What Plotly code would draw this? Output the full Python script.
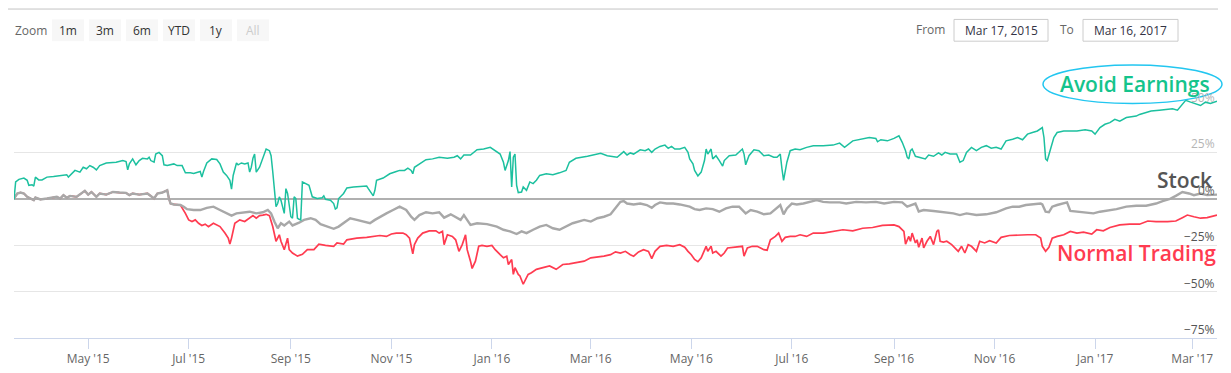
import pandas as pd
import plotly.graph_objects as go

# ---------------- data (days since start date, percent change) ----------------
START_DATE = "2015-03-17"
END_DATE = "2017-03-16"

avoid_earnings = [
    (0, -0.5), (1, 8.9), (3, 10.3), (6, 11.0), (8, 9.8), (9, 7.1), (11, 7.4), (12, 6.6), (13, 11.5),
    (15, 10.0), (17, 10.0), (19, 10.8), (20, 11.5), (24, 11.8), (28, 12.4), (32, 12.8), (33, 11.5),
    (35, 13.3), (37, 15.1), (40, 14.2), (42, 16.8), (44, 16.0), (46, 17.7), (48, 16.8), (50, 15.4),
    (52, 17.7), (56, 19.1), (62, 19.5), (66, 20.4), (68, 19.9), (69, 15.4), (70, 18.6), (72, 21.3),
    (74, 18.1), (76, 20.4), (78, 21.6), (81, 21.3), (82, 22.2), (83, 20.4), (85, 19.5), (86, 23.9),
    (88, 24.8), (90, 23.0), (91, 18.1), (93, 17.7), (97, 18.6), (99, 17.7), (102, 17.7), (104, 13.8),
    (107, 13.8), (109, 13.5), (113, 14.5), (114, 11.5), (115, 14.5), (117, 19.1), (120, 21.3),
    (123, 21.0), (125, 18.6), (127, 14.2), (129, 12.4), (131, 9.8), (132, 5.0), (133, 12.4),
    (135, 19.1), (136, 18.1), (138, 19.1), (140, 18.6), (142, 19.1), (143, 14.2), (144, 16.8),
    (145, 21.6), (146, 23.9), (147, 14.2), (149, 16.8), (151, 21.3), (153, 26.6), (155, 25.7),
    (156, 23.0), (157, 14.5), (158, 5.3), (159, -4.4), (160, -2.7), (161, 0.9), (162, -1.0),
    (163, -5.3), (164, -8.0), (165, 5.3), (166, 2.7), (167, -3.5), (168, -9.8), (169, -10.6),
    (170, 0.9), (171, 0.0), (172, -10.6), (173, -11.2), (174, -11.5), (175, 8.9), (177, 8.0),
    (179, 7.1), (181, 0.9), (184, 0.0), (187, 0.4), (188, 1.4), (189, -0.4), (192, -0.9), (194, -2.7),
    (195, -5.7), (196, -5.0), (197, 0.0), (200, 2.7), (202, 5.7), (206, 6.2), (210, 6.5), (214, 6.7),
    (215, 5.3), (217, 2.7), (218, 1.4), (219, 4.4), (220, 9.8), (224, 11.0), (228, 13.3), (232, 14.5),
    (234, 15.1), (237, 15.1), (239, 16.3), (241, 15.1), (242, 13.3), (243, 16.8), (246, 18.6),
    (250, 20.9), (254, 21.3), (258, 22.2), (263, 21.6), (267, 22.2), (269, 23.0), (271, 21.3),
    (273, 23.4), (277, 23.4), (281, 26.2), (285, 26.6), (289, 27.5), (292, 25.7), (295, 23.9),
    (297, 19.5), (298, 15.1), (300, 20.4), (301, 25.2), (302, 6.2), (303, 22.2), (304, 23.9),
    (305, 7.1), (306, 3.2), (308, 3.5), (309, 6.2), (311, 4.4), (313, 8.9), (315, 8.0), (317, 9.8),
    (319, 12.4), (323, 13.3), (327, 12.8), (331, 13.8), (335, 15.1), (337, 19.5), (341, 21.6),
    (348, 22.7), (352, 23.4), (356, 24.3), (360, 23.0), (366, 22.2), (370, 25.2), (372, 23.4),
    (374, 24.5), (376, 23.9), (380, 26.2), (383, 25.7), (385, 26.6), (387, 24.8), (389, 26.6),
    (392, 28.0), (395, 28.7), (397, 27.0), (399, 28.0), (401, 26.6), (404, 26.6), (407, 27.5),
    (409, 24.8), (410, 21.3), (412, 18.6), (413, 15.1), (415, 12.1), (417, 14.2), (419, 20.4),
    (420, 26.6), (421, 23.9), (423, 26.6), (424, 21.3), (426, 23.0), (428, 20.4), (430, 17.4),
    (431, 20.4), (434, 23.0), (438, 23.4), (442, 26.6), (443, 23.9), (444, 18.1), (446, 23.0),
    (449, 26.2), (452, 25.7), (455, 23.0), (458, 23.4), (461, 22.2), (463, 22.2), (465, 23.9),
    (466, 16.0), (467, 9.8), (469, 19.5), (471, 25.7), (474, 26.6), (477, 26.2), (481, 27.5),
    (485, 28.4), (491, 28.4), (497, 28.7), (501, 29.8), (504, 27.5), (509, 31.0), (515, 32.3),
    (519, 32.8), (523, 32.3), (524, 30.5), (526, 31.6), (530, 31.0), (534, 32.3), (537, 33.7),
    (539, 30.2), (541, 25.7), (542, 22.2), (543, 21.3), (544, 25.7), (545, 26.6), (547, 22.7),
    (550, 22.2), (553, 21.3), (555, 23.4), (558, 22.7), (561, 24.5), (563, 23.4), (565, 24.8),
    (568, 23.9), (572, 23.9), (574, 19.5), (576, 20.4), (578, 24.8), (581, 27.5), (584, 25.7),
    (587, 27.5), (590, 28.4), (593, 27.0), (596, 27.5), (599, 26.6), (602, 31.0), (606, 31.9),
    (609, 32.8), (612, 31.6), (615, 34.6), (618, 35.5), (621, 36.3), (624, 38.1), (625, 32.8),
    (626, 21.3), (627, 20.4), (629, 26.6), (631, 32.8), (633, 35.5), (637, 36.3), (641, 36.3),
    (645, 36.3), (650, 36.9), (654, 36.3), (656, 34.6), (659, 38.1), (662, 39.9), (665, 40.8),
    (668, 42.6), (671, 41.6), (675, 43.5), (679, 44.0), (681, 44.3), (683, 45.2), (687, 46.1),
    (690, 47.0), (695, 47.5), (700, 47.9), (703, 48.2), (706, 47.5), (709, 50.5), (711, 52.8),
    (714, 51.8), (717, 51.1), (720, 50.0), (723, 51.8), (726, 51.1), (730, 52.3),
]

stock = [
    (0, 0.0), (2, 2.7), (4, 3.2), (6, 2.7), (8, 0.9), (10, 0.0), (12, -0.9), (13, 0.5), (16, -0.5),
    (20, 0.0), (24, 0.4), (26, 0.9), (28, 0.0), (30, 1.8), (32, 0.4), (34, 1.4), (38, 0.9), (40, 2.1),
    (43, 4.1), (45, 2.1), (47, 3.5), (50, 0.9), (52, 2.7), (56, 2.1), (60, 3.5), (64, 3.2), (68, 3.0),
    (70, 1.8), (72, 2.7), (76, 2.1), (81, 2.7), (85, 0.0), (87, 2.7), (90, 3.2), (92, 3.9), (93, 4.4),
    (94, 0.0), (95, -2.7), (97, -3.2), (101, -3.5), (103, -4.4), (105, -5.7), (109, -6.2),
    (113, -6.2), (117, -5.0), (121, -4.4), (125, -6.2), (129, -8.0), (132, -9.2), (135, -8.0),
    (139, -7.4), (143, -7.1), (147, -8.0), (151, -7.4), (154, -6.2), (156, -8.0), (158, -12.4),
    (160, -16.0), (162, -13.3), (164, -14.5), (167, -12.4), (169, -14.5), (173, -13.0), (176, -11.5),
    (180, -10.6), (183, -11.5), (186, -13.8), (190, -15.1), (194, -16.3), (197, -15.1), (200, -13.3),
    (204, -10.6), (208, -11.5), (212, -12.4), (216, -13.3), (219, -11.5), (222, -9.8), (226, -8.0),
    (230, -6.2), (234, -4.4), (238, -6.2), (241, -9.8), (243, -11.5), (246, -8.9), (250, -7.4),
    (254, -8.0), (258, -7.4), (261, -10.3), (265, -8.5), (269, -10.6), (271, -11.5), (273, -8.9),
    (275, -11.5), (277, -14.2), (281, -13.3), (287, -13.8), (293, -15.1), (297, -16.8), (301, -17.7),
    (305, -19.1), (308, -17.7), (311, -18.6), (315, -16.8), (319, -15.1), (323, -14.2), (327, -16.0),
    (331, -16.8), (335, -15.1), (339, -13.3), (346, -11.5), (350, -12.4), (354, -10.6), (358, -9.8),
    (362, -8.5), (365, -5.3), (368, -1.8), (370, -1.4), (372, -2.7), (376, -3.2), (380, -2.7),
    (384, -3.5), (387, -5.0), (389, -3.5), (392, -2.1), (396, -2.7), (400, -2.7), (404, -3.2),
    (407, -3.9), (410, -4.4), (413, -5.7), (416, -6.2), (420, -5.3), (424, -5.7), (428, -7.1),
    (432, -5.3), (436, -4.4), (440, -4.4), (444, -8.0), (447, -6.2), (451, -7.1), (455, -8.5),
    (459, -8.0), (463, -5.3), (465, -3.5), (467, -8.5), (469, -5.3), (472, -2.7), (475, -3.2),
    (479, -2.7), (483, -1.8), (487, -0.9), (491, -1.8), (495, -2.1), (501, -2.1), (505, -2.7),
    (511, -1.8), (517, -2.1), (523, -1.8), (528, -2.7), (534, -1.8), (539, -2.1), (542, -4.4),
    (545, -3.5), (547, -2.7), (549, -7.0), (552, -6.2), (558, -6.7), (564, -7.4), (570, -8.0),
    (574, -8.9), (578, -8.0), (584, -8.9), (590, -8.5), (596, -7.4), (599, -6.2), (602, -5.3),
    (606, -4.4), (610, -4.4), (614, -3.5), (619, -3.2), (623, -2.7), (624, -3.2), (626, -7.1),
    (628, -7.4), (630, -4.4), (633, -3.5), (637, -2.7), (639, -2.1), (641, -6.7), (645, -7.1),
    (651, -7.4), (655, -8.0), (659, -7.1), (663, -6.7), (669, -5.7), (675, -4.4), (681, -3.9),
    (687, -3.9), (693, -2.7), (697, -1.4), (701, -0.4), (705, 1.4), (709, 3.5), (713, 2.7),
    (716, 1.8), (720, 2.7), (724, 1.8), (730, 2.1),
]

normal_trading = [
    (0, 0.0), (2, 2.7), (4, 3.2), (6, 2.7), (8, 0.9), (10, 0.0), (12, -0.9), (13, 0.5), (16, -0.5),
    (20, 0.0), (24, 0.4), (26, 0.9), (28, 0.0), (30, 1.8), (32, 0.4), (34, 1.4), (38, 0.9), (40, 2.1),
    (43, 4.1), (45, 2.1), (47, 3.5), (50, 0.9), (52, 2.7), (56, 2.1), (60, 3.5), (64, 3.2), (68, 3.0),
    (70, 1.8), (72, 2.7), (76, 2.1), (81, 2.7), (85, 0.0), (87, 2.7), (90, 3.2), (92, 3.9), (93, 4.4),
    (94, 0.0), (95, -2.7), (97, -3.2), (101, -3.5), (104, -8.0), (106, -11.5), (108, -12.4),
    (110, -11.5), (112, -13.3), (114, -14.5), (116, -13.8), (118, -15.1), (121, -13.3), (125, -15.1),
    (128, -18.6), (130, -21.3), (131, -24.5), (132, -21.3), (134, -13.3), (137, -11.5), (140, -12.4),
    (143, -10.6), (145, -9.2), (147, -10.6), (149, -9.2), (151, -8.9), (153, -8.5), (155, -9.2),
    (157, -15.1), (159, -23.0), (161, -19.5), (162, -23.0), (164, -27.5), (166, -21.3), (167, -27.5),
    (169, -29.3), (172, -31.0), (175, -30.0), (178, -27.5), (182, -27.5), (185, -24.5), (189, -25.2),
    (194, -25.7), (196, -23.9), (200, -24.5), (202, -22.2), (208, -21.3), (214, -20.9), (218, -20.4),
    (222, -19.9), (226, -20.4), (229, -19.1), (232, -18.6), (236, -18.6), (238, -19.5), (240, -21.3),
    (242, -29.8), (243, -24.8), (245, -21.3), (248, -18.6), (252, -17.4), (256, -17.4), (258, -18.6),
    (260, -17.7), (261, -24.8), (263, -19.5), (266, -20.4), (268, -22.2), (270, -28.4), (272, -24.8),
    (274, -19.5), (275, -27.5), (277, -33.7), (278, -37.6), (280, -33.7), (282, -25.7), (284, -25.2),
    (287, -25.7), (290, -25.2), (292, -27.5), (295, -30.2), (297, -31.9), (299, -31.0), (300, -35.5),
    (302, -32.8), (303, -40.8), (304, -37.2), (306, -40.8), (307, -41.6), (309, -46.1), (311, -42.5),
    (312, -40.8), (314, -39.9), (317, -38.1), (321, -37.2), (325, -36.3), (329, -38.1), (333, -35.5),
    (337, -35.1), (341, -34.6), (346, -33.7), (350, -31.9), (354, -31.6), (358, -31.0), (362, -30.2),
    (365, -28.7), (368, -29.3), (371, -28.4), (374, -30.2), (376, -31.0), (379, -28.7), (382, -27.5),
    (385, -28.4), (387, -32.3), (389, -28.4), (392, -25.7), (396, -25.2), (400, -25.7), (404, -24.8),
    (407, -26.2), (409, -28.4), (411, -30.2), (413, -32.8), (415, -34.0), (417, -31.9), (420, -25.7),
    (421, -28.4), (423, -25.7), (424, -29.3), (426, -28.4), (429, -31.0), (431, -29.3), (433, -26.6),
    (436, -26.2), (442, -25.7), (443, -31.0), (445, -26.6), (448, -25.7), (451, -25.7), (455, -27.5),
    (457, -27.8), (459, -22.2), (462, -20.4), (464, -18.6), (466, -23.0), (468, -20.9), (471, -20.4),
    (474, -20.4), (477, -19.5), (481, -20.4), (485, -18.6), (491, -18.6), (497, -17.7), (503, -16.8),
    (509, -17.4), (515, -16.0), (521, -15.6), (527, -14.5), (534, -14.2), (537, -15.1), (540, -17.7),
    (541, -24.5), (543, -20.4), (544, -23.0), (545, -18.6), (547, -23.9), (548, -22.2), (549, -26.2),
    (551, -21.3), (552, -26.6), (554, -23.0), (556, -20.4), (558, -24.8), (560, -17.7), (561, -16.8),
    (562, -23.0), (564, -23.4), (566, -23.0), (569, -24.8), (573, -28.4), (575, -25.7), (577, -29.3),
    (579, -24.8), (581, -25.7), (584, -28.4), (586, -23.0), (589, -23.9), (592, -22.7), (596, -23.9),
    (599, -20.9), (604, -19.9), (610, -19.5), (615, -19.5), (620, -19.5), (623, -21.3), (624, -25.7),
    (626, -28.4), (628, -26.2), (630, -21.3), (633, -20.4), (637, -19.5), (641, -17.7), (645, -18.6),
    (649, -18.1), (654, -19.1), (657, -16.8), (661, -17.4), (665, -15.6), (671, -14.2), (677, -13.8),
    (683, -13.8), (688, -12.1), (693, -12.4), (700, -12.4), (705, -12.1), (709, -10.3), (712, -8.9),
    (716, -9.8), (720, -10.6), (724, -10.3), (730, -8.9),
]

x_tick_dates = ["2015-05-01", "2015-07-01", "2015-09-01", "2015-11-01", "2016-01-01", "2016-03-01",
                "2016-05-01", "2016-07-01", "2016-09-01", "2016-11-01", "2017-01-01", "2017-03-01"]
x_tick_labels = ["May '15", "Jul '15", "Sep '15", "Nov '15", "Jan '16", "Mar '16",
                 "May '16", "Jul '16", "Sep '16", "Nov '16", "Jan '17", "Mar '17"]
y_label_values = [50, 25, 0, -25, -50, -75]
y_label_texts = ["50%", "25%", "0%", "\u221225%", "\u221250%", "\u221275%"]
y_label_colors = ["#b5b5b5", "#b5b5b5", "#666666", "#555555", "#555555", "#555555"]
y_grid_values = [-50, -25, 25]
zoom_buttons = ["1m", "3m", "6m", "YTD", "1y", "All"]
from_date_text = "Mar 17, 2015"
to_date_text = "Mar 16, 2017"

# ---------------- layout geometry ----------------
# The page body has an 8px margin, so the figure is drawn 8px right and down.
OFF = 8
FIG_W, FIG_H = 1231 - OFF, 373 - OFF
PLOT_L, PLOT_R, PLOT_T, PLOT_B = 14, 1217, 59, 341   # target screen pixels
M_L = PLOT_L - OFF
M_T = PLOT_T - OFF
M_R = FIG_W - (PLOT_R - OFF)
M_B = FIG_H - (PLOT_B - OFF)
PW = FIG_W - M_L - M_R
PH = FIG_H - M_T - M_B
FONT = "Open Sans"


def fx(px):
    return (px - OFF - M_L) / PW


def fy(py):
    return (M_T + PH - (py - OFF)) / PH


def to_xy(points):
    start = pd.Timestamp(START_DATE)
    xs = [start + pd.Timedelta(days=d) for d, _ in points]
    ys = [v for _, v in points]
    return xs, ys


fig = go.Figure()

for name, pts, color, width in [
    ("Normal Trading", normal_trading, "#ff3b50", 1.7),
    ("Stock", stock, "#a8a8a8", 2.4),
    ("Avoid Earnings", avoid_earnings, "#1cc09f", 1.5),
]:
    xs, ys = to_xy(pts)
    fig.add_trace(go.Scatter(x=xs, y=ys, mode="lines", name=name,
                             line=dict(color=color, width=width), hoverinfo="skip"))

shapes = []
annotations = []

# top border line
shapes.append(dict(type="line", xref="paper", yref="paper", x0=fx(OFF), x1=fx(1218),
                   y0=fy(8.5), y1=fy(8.5), line=dict(color="#c4c4c4", width=1)))

# zoom buttons
annotations.append(dict(text="Zoom", xref="paper", yref="paper", x=fx(13), y=fy(30),
                        xanchor="left", yanchor="middle", showarrow=False,
                        font=dict(family=FONT, size=12, color="#666666")))
btn_x0 = [52, 89, 126, 163, 200, 237]
for i, label in enumerate(zoom_buttons):
    x0 = btn_x0[i]
    x1 = x0 + 32
    shapes.append(dict(type="rect", xref="paper", yref="paper", x0=fx(x0), x1=fx(x1),
                       y0=fy(41), y1=fy(19), fillcolor="#f7f7f7", line=dict(width=0)))
    annotations.append(dict(text=label, xref="paper", yref="paper", x=fx((x0 + x1) / 2), y=fy(30),
                            xanchor="center", yanchor="middle", showarrow=False,
                            font=dict(family=FONT, size=12,
                                      color="#cccccc" if label == "All" else "#333333")))

# date range inputs
annotations.append(dict(text="From", xref="paper", yref="paper", x=fx(947), y=fy(29.5),
                        xanchor="right", yanchor="middle", showarrow=False,
                        font=dict(family=FONT, size=12, color="#666666")))
annotations.append(dict(text="To", xref="paper", yref="paper", x=fx(1076), y=fy(29.5),
                        xanchor="right", yanchor="middle", showarrow=False,
                        font=dict(family=FONT, size=12, color="#666666")))
for (bx0, bx1), txt in [((954, 1048), from_date_text), ((1083, 1178), to_date_text)]:
    shapes.append(dict(type="rect", xref="paper", yref="paper", x0=fx(bx0), x1=fx(bx1),
                       y0=fy(41), y1=fy(19), fillcolor="white", line=dict(color="#cccccc", width=1)))
    annotations.append(dict(text=txt, xref="paper", yref="paper", x=fx((bx0 + bx1) / 2), y=fy(30),
                            xanchor="center", yanchor="middle", showarrow=False,
                            font=dict(family=FONT, size=12, color="#333344")))

# y-axis labels (inside, above grid lines)
for v, t, c in zip(y_label_values, y_label_texts, y_label_colors):
    annotations.append(dict(text=t, xref="paper", yref="y", x=1.0, y=v, xanchor="right",
                            yanchor="bottom", yshift=-2, showarrow=False,
                            font=dict(family=FONT, size=12, color=c)))

# series labels
shapes.append(dict(type="circle", xref="paper", yref="paper", x0=fx(1043), x1=fx(1222),
                   y0=fy(104), y1=fy(65), line=dict(color="#22c6f0", width=1.5)))
annotations.append(dict(text="Avoid Earnings", xref="paper", yref="paper", x=fx(1135), y=fy(84),
                        xanchor="center", yanchor="middle", showarrow=False,
                        font=dict(family=FONT, size=21, color="#14c48c", weight=600)))
annotations.append(dict(text="Stock", xref="paper", yref="paper", x=fx(1214), y=fy(181),
                        xanchor="right", yanchor="middle", showarrow=False,
                        font=dict(family=FONT, size=21, color="#555555", weight=600)))
annotations.append(dict(text="Normal Trading", xref="paper", yref="paper", x=fx(1218), y=fy(255),
                        xanchor="right", yanchor="middle", showarrow=False,
                        font=dict(family=FONT, size=21, color="#ff3b50", weight=600)))

fig.update_layout(
    width=FIG_W, height=FIG_H,
    margin=dict(l=M_L, r=M_R, t=M_T, b=M_B, pad=0),
    paper_bgcolor="white", plot_bgcolor="white",
    showlegend=False,
    shapes=shapes, annotations=annotations,
    xaxis=dict(type="date", range=[START_DATE, END_DATE], tickvals=x_tick_dates,
               ticktext=x_tick_labels, showgrid=False, showline=True, linecolor="#ccd6eb",
               linewidth=1, ticks="outside", ticklen=10, tickcolor="#ccd6eb", tickwidth=1,
               tickfont=dict(family=FONT, size=12, color="#666666"), zeroline=False,
               fixedrange=True),
    yaxis=dict(range=[-75, 75], tickvals=y_grid_values, showticklabels=False, ticks="",
               showgrid=True, gridcolor="#e6e6e6", gridwidth=1, zeroline=True,
               zerolinecolor="#b0b0b0", zerolinewidth=2, showline=False, fixedrange=True),
)

fig.write_html("out.html")
